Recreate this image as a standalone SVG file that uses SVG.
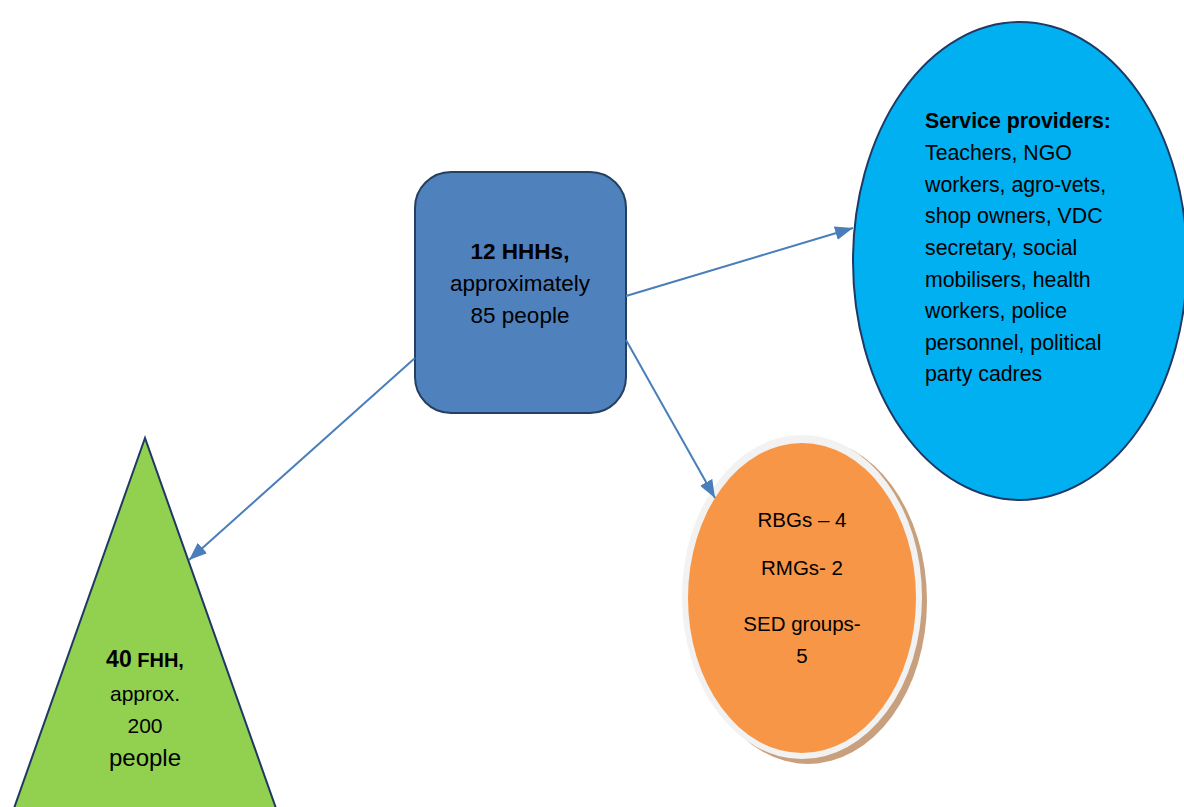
<svg xmlns="http://www.w3.org/2000/svg" width="1184" height="807" viewBox="0 0 1184 807">
<style>
text{font-family:"Liberation Sans",Arial,sans-serif;fill:#000;}
.c{text-anchor:middle;font-size:20.5px;}
.r{text-anchor:middle;font-size:22.5px;}
.l{font-size:21.3px;}
.b{font-weight:bold;}
.conn{stroke:#4a7ebb;stroke-width:2;fill:none;marker-end:url(#ah);}
</style>
<defs>
<marker id="ah" markerUnits="userSpaceOnUse" markerWidth="18" markerHeight="14" refX="18" refY="7" orient="auto">
<path d="M0,0 L18,7 L0,14 z" fill="#4a7ebb"/>
</marker>
</defs>
<rect width="1184" height="807" fill="#fff"/>
<g id="service-providers">
<ellipse cx="1020" cy="261" rx="167" ry="239" fill="#00b0f0" stroke="#1f3864" stroke-width="2"/>
<text class="l b" x="925" y="128">Service providers:</text>
<text class="l" x="925" y="160">Teachers, NGO</text>
<text class="l" x="925" y="192">workers, agro-vets,</text>
<text class="l" x="925" y="223">shop owners, VDC</text>
<text class="l" x="925" y="255">secretary, social</text>
<text class="l" x="925" y="287">mobilisers, health</text>
<text class="l" x="925" y="318">workers, police</text>
<text class="l" x="925" y="350">personnel, political</text>
<text class="l" x="925" y="381">party cadres</text>
</g>
<g id="hhh">
<rect x="415" y="172" width="211" height="241" rx="36" ry="36" fill="#4f81bd" stroke="#243f60" stroke-width="2"/>
<text class="r b" x="520" y="259">12 HHHs,</text>
<text class="r" x="520" y="291">approximately</text>
<text class="r" x="520" y="323">85 people</text>
</g>
<g id="groups">
<ellipse cx="808" cy="601" rx="119" ry="163" fill="#c9a07e"/>
<ellipse cx="802" cy="597" rx="120" ry="162" fill="#f2f2f2"/>
<ellipse cx="802" cy="598" rx="114" ry="155" fill="#f79646"/>
<text class="c" x="802" y="527">RBGs – 4</text>
<text class="c" x="802" y="575">RMGs- 2</text>
<text class="c" x="802" y="631">SED groups-</text>
<text class="c" x="802" y="663">5</text>
</g>
<g id="fhh">
<polygon points="145,438 -5,862 295,862" fill="#92d050" stroke="#1f3864" stroke-width="2"/>
<text class="c b" x="145" y="667"><tspan font-size="23">40</tspan><tspan font-size="20"> FHH,</tspan></text>
<text class="c" x="145" y="701" style="font-size:21px">approx.</text>
<text class="c" x="145" y="733" style="font-size:21px">200</text>
<text class="c" x="145" y="766" style="font-size:24px">people</text>
</g>
<g id="connectors">
<line class="conn" x1="626" y1="296" x2="853" y2="228"/>
<line class="conn" x1="626" y1="340" x2="715" y2="498"/>
<line class="conn" x1="415" y1="358" x2="189" y2="560"/>
</g>
</svg>
